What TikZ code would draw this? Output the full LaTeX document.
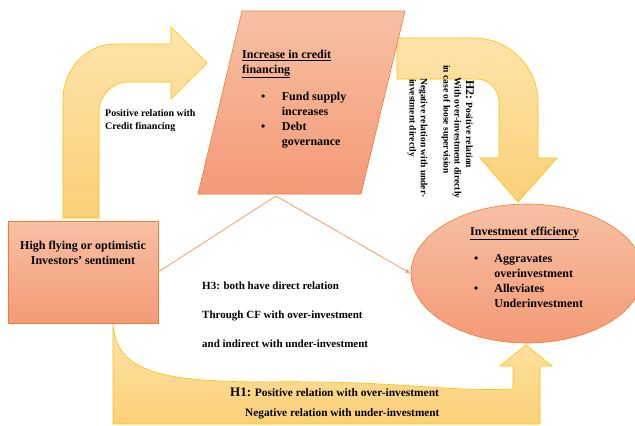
\documentclass[tikz,border=0pt]{standalone}
\usepackage{fontspec}
\setmainfont{Liberation Serif}
\usepackage{tikz}
\tikzset{>=latex}
\usetikzlibrary{arrows,shapes.geometric,positioning}
\definecolor{yellowlight}{RGB}{254,228,170}
\definecolor{yellowdark}{RGB}{251,208,120}
\definecolor{yellowline}{RGB}{255,192,0}
\definecolor{orangelight}{RGB}{248,192,164}
\definecolor{orangedark}{RGB}{244,154,118}
\definecolor{orangeline}{RGB}{237,125,49}
\tikzset{
  yarrow/.style={draw=yellowline,line width=0.6pt,top color=yellowlight,bottom color=yellowdark},
  orshape/.style={draw=orangeline,line width=0.6pt,top color=orangelight,bottom color=orangedark},
  conn/.style={draw=orangeline!75,line width=0.8pt},
  lbl/.style={font=\bfseries\fontsize{11}{13}\selectfont,inner sep=0pt},
  vlbl/.style={font=\bfseries\fontsize{9.5}{11}\selectfont,inner sep=0pt,rotate=-90,anchor=west}
}

\begin{document}
\begin{tikzpicture}[x=1pt,y=-1pt]
                \useasboundingbox (0,0) rectangle (635,426);
                % block arrows
                \draw[yarrow] (113,323) -- (113,424) -- (540,424) -- (540,366) -- (552,366) -- (526,345) -- (500,366) -- (513,366) -- (513,389) .. controls (440,392) and (400,380) .. (260,382) .. controls (170,381) and (115,375) .. (113,323) -- cycle;
                \draw[yarrow] (63,218) -- (63,100) .. controls (63,69) and (86,44) .. (115,44) -- (171,44) -- (171,27) -- (207,63) -- (171,99) -- (171,82) -- (127,82) .. controls (112,82) and (99,97) .. (99,110) -- (99,218) -- cycle;
                \draw[yarrow] (397,38) -- (474,38) .. controls (509,38) and (538,67) .. (538,102) -- (538,158) -- (557,158) -- (518,202) -- (480,158) -- (499,158) -- (499,102) .. controls (499,89) and (489,79) .. (476,79) -- (397,79) -- cycle;
                % shapes
                \draw[orshape] (242,11) -- (405,11) -- (361,194) -- (198,194) -- cycle;
                \coordinate (creditbot) at (276,196);
                \node[orshape,minimum width=150,minimum height=102,inner sep=0pt] (sent) at (83,272) {};
                \node[orshape,ellipse,minimum width=232,minimum height=139,inner sep=0pt] (eff) at (527,273.5) {};
                \draw[conn,->] (sent.east) -- (creditbot) -- (eff.west);
                % texts
                \node[lbl,font=\bfseries\fontsize{12}{15}\selectfont,align=center,anchor=north] (senttxt) at (83,241) {High flying or optimistic\\Investors’ sentiment};
                \node[lbl,font=\bfseries\fontsize{10}{13}\selectfont,align=left,anchor=west] (poscredit) at (105,120.5) {Positive relation with\\Credit financing};
                \node[lbl,font=\bfseries\fontsize{12}{15}\selectfont,align=left,anchor=north west] (credit) at (242,50) {\underline{Increase in credit}\\\underline{financing}\\[11pt]\begin{tabular}[t]{@{\hspace{19pt}}l@{\hspace{16.5pt}}l}\textbullet & Fund supply\\ & increases\\ \textbullet & Debt\\ & governance\end{tabular}};
                \node[lbl,font=\bfseries\fontsize{12}{15}\selectfont,align=left,anchor=north west] (efftxt) at (470,227) {\underline{Investment efficiency}\\[11pt]\begin{tabular}[t]{@{\hspace{4pt}}l@{\hspace{16pt}}l}\textbullet & Aggravates\\ & overinvestment\\ \textbullet & Alleviates\\ & Underinvestment\end{tabular}};
                \node[lbl,font=\bfseries\fontsize{11}{29}\selectfont,align=left,anchor=north west] (hthree) at (202,282) {H3: both have direct relation\\Through CF with over-investment\\and indirect with under-investment};
                \node[lbl,font=\bfseries\fontsize{11.4}{13}\selectfont,anchor=west] (honea) at (230,392) {{\fontsize{13}{14}\selectfont H1:} Positive relation with over-investment};
                \node[lbl,font=\bfseries\fontsize{11.3}{13}\selectfont,anchor=west] (honeb) at (245,414) {Negative relation with under-investment};
                \node[vlbl] (htwoa) at (470,80) {{\fontsize{12}{13}\selectfont H2:} Positive relation};
                \node[vlbl] (htwob) at (457,77) {With over-investment directly};
                \node[vlbl] (htwoc) at (446,65) {in case of loose supervision};
                \node[vlbl] (htwod) at (423,78) {Negative relation with under-};
                \node[vlbl] (htwoe) at (412,79) {investment directly};
            \end{tikzpicture}
\end{document}
